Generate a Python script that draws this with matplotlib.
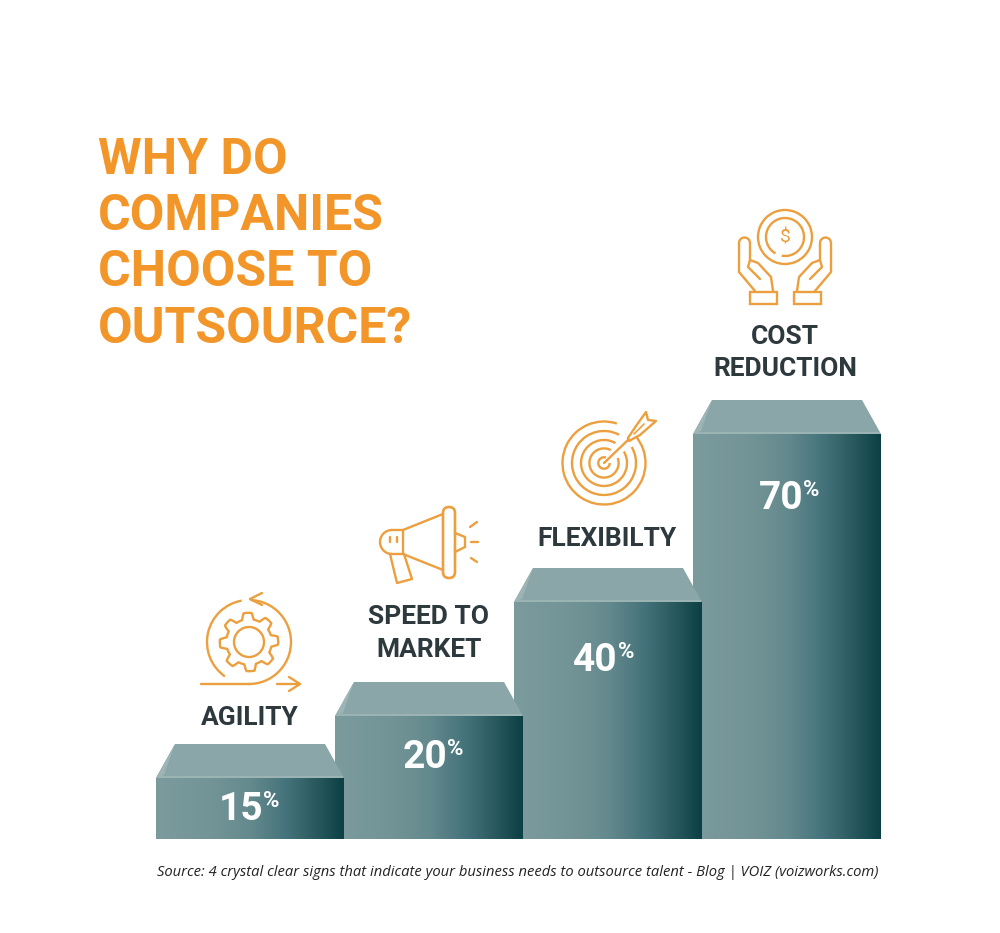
import numpy as np
import matplotlib
matplotlib.use("Agg")
import matplotlib.pyplot as plt
from matplotlib.colors import LinearSegmentedColormap
from matplotlib.patches import Polygon, FancyBboxPatch, Arc

# Data
categories = ["AGILITY", "SPEED TO\nMARKET", "FLEXIBILTY", "COST\nREDUCTION"]
values = [15, 20, 40, 70]
step_heights = [61, 123, 237, 405]  # drawn heights, not proportional in the original
title_lines = ["WHY DO", "COMPANIES", "CHOOSE TO", "OUTSOURCE?"]
source = "Source: 4 crystal clear signs that indicate your business needs to outsource talent - Blog | VOIZ (voizworks.com)"

ORANGE = "#f3962a"
ICON = "#eb9f3e"
DARK = "#2e393e"

plt.rcParams["font.family"] = ["Roboto", "DejaVu Sans"]

fig = plt.figure(figsize=(10, 9.33), dpi=100)
ax = fig.add_axes([0, 0, 1, 1])

# Steps, right one first so each overlaps its neighbour
base = 839
width = 188
depth = 34
inset = 19
cmap = LinearSegmentedColormap.from_list(
    "step", [(0, "#7b9b9d"), (0.3, "#739497"), (0.5, "#648a8d"), (0.7, "#44727a"),
             (0.85, "#2a5a60"), (1, "#0b4045")])
grad = np.linspace(0, 1, 256).reshape(1, -1)

for i in reversed(range(len(values))):
    left = 156 + i * 179
    top = base - step_heights[i]
    z = 10 - i
    bar = ax.bar(left, -step_heights[i], width=width, bottom=base, align="edge",
                 color="#7a9a9c", zorder=z)[0]
    im = ax.imshow(grad, cmap=cmap, extent=[left, left + width, base, top],
                   aspect="auto", zorder=z)
    im.set_clip_path(bar)
    ax.add_patch(Polygon([(left, top), (left + inset, top - depth),
                          (left + width - inset, top - depth), (left + width, top)],
                         fc="#8ba6a8", ec="none", zorder=z))
    ax.add_patch(Polygon([(left, top), (left + inset, top - depth), (left + 8, top - 3)],
                         fc="#9db4b5", ec="none", zorder=z))
    ax.plot([left + 1, left + width - 1], [top - 1, top - 1], color="#9db4b5", lw=1.4,
            zorder=z, solid_capstyle="butt")

# Title
for line, y in zip(title_lines, [174, 230, 286, 343]):
    ax.text(98, y, line, color=ORANGE, fontsize=36, fontweight="bold", va="baseline", ha="left")

# Category labels
label_pos = [(250, [725]), (429, [624, 657]), (607, [546]), (785, [344, 376])]
for cat, (cx, ys) in zip(categories, label_pos):
    for part, y in zip(cat.split("\n"), ys):
        ax.text(cx, y, part, color=DARK, fontsize=19, fontweight="bold",
                ha="center", va="baseline")

# Percent values
value_pos = [(263, 820), (447, 768), (618, 671), (803, 509)]
for v, (xr, y) in zip(values, value_pos):
    ax.text(xr, y, str(v), color="white", fontsize=28, fontweight="bold",
            ha="right", va="baseline", zorder=20)
    ax.text(xr, y - 13, "%", color="white", fontsize=16, fontweight="bold",
            ha="left", va="baseline", zorder=20)

ax.text(157, 876, source, color="#222222", fontsize=10.6, style="italic", family="Open Sans",
        ha="left", va="baseline")

# Icons
def stroke(pts, lw=1.7):
    xs, ys = zip(*pts)
    ax.plot(xs, ys, color=ICON, lw=lw, solid_capstyle="round", solid_joinstyle="round")

def ring(cx, cy, r, t1=0, t2=360, lw=1.7):
    ax.add_patch(Arc((cx, cy), 2 * r, 2 * r, theta1=t1, theta2=t2, color=ICON, lw=lw))

# gear / agility
ring(249, 642, 15)
t = np.linspace(0, 2 * np.pi, 400)
r = 26 + 3.2 * np.clip(2.2 * np.cos(8 * t + 0.4), -1, 1)
stroke(list(zip(249 + r * np.cos(t), 642 + r * np.sin(t))))
ring(249, 642, 42, 125, 260)
ring(249, 642, 42, 272, 450)
stroke([(201, 684), (250, 684)])
stroke([(277, 684), (300, 684)])
stroke([(289, 677), (300, 684), (289, 691)])
stroke([(262, 593), (250, 599), (262, 605)])

# megaphone
stroke([(403, 530), (443, 514)])
stroke([(403, 554), (443, 570)])
stroke([(403, 530), (391, 530)])
stroke([(403, 554), (391, 554)])
ax.add_patch(Arc((392, 542), 24, 24, theta1=90, theta2=270, color=ICON, lw=1.7))
stroke([(403, 530), (403, 554)])
ax.add_patch(FancyBboxPatch((443, 507), 12, 71, boxstyle="round,pad=0,rounding_size=6",
                            fc="none", ec=ICON, lw=1.9))
stroke([(455, 533), (465, 537), (465, 547), (455, 552)])
stroke([(390, 554), (397, 583), (412, 579), (404, 554)])
stroke([(390, 537), (390, 542)])
stroke([(397, 537), (397, 542)])
stroke([(470, 527), (477, 522)])
stroke([(471, 542), (478, 542)])
stroke([(471, 558), (477, 562)])

# target
for rad, gap in zip([41.5, 32, 23, 14.6], [(-40, -72), (-30, -62), (-30, -60), (-20, -62)]):
    ring(604, 463, rad, gap[0], gap[1] + 360)
ring(604, 463, 5.7, 0, 290)
stroke([(604, 463), (628, 440)])
stroke([(628, 438), (636, 426), (646, 412), (648, 420), (656, 421), (640, 435), (629, 441), (628, 438)])
stroke([(634, 434), (644, 424)], lw=1.2)

# hands and coin
ring(785, 237, 27)
ring(785, 237, 19, -240, 100)
ax.text(785, 237, "$", color=ICON, fontsize=14, ha="center", va="center")
a = np.linspace(np.pi, 2 * np.pi, 12)
tip = list(zip(744.5 + 5.5 * np.cos(a), 243 + 5.5 * np.sin(a)))
hand = [(755, 291), (739, 272)] + tip + [(750, 260), (758, 263), (771, 277), (773, 291)]
finger = [(750, 260), (748, 267), (760, 279)]
for pts in (hand, finger):
    stroke(pts)
    stroke([(2 * 785 - x, y) for x, y in pts])
for cx in (750, 794):
    ax.add_patch(plt.Rectangle((cx, 292), 27, 12, fc="none", ec=ICON, lw=1.7))

ax.set_xlim(0, 1000)
ax.set_ylim(933, 0)
ax.axis("off")

fig.savefig("out.png", dpi=100)
